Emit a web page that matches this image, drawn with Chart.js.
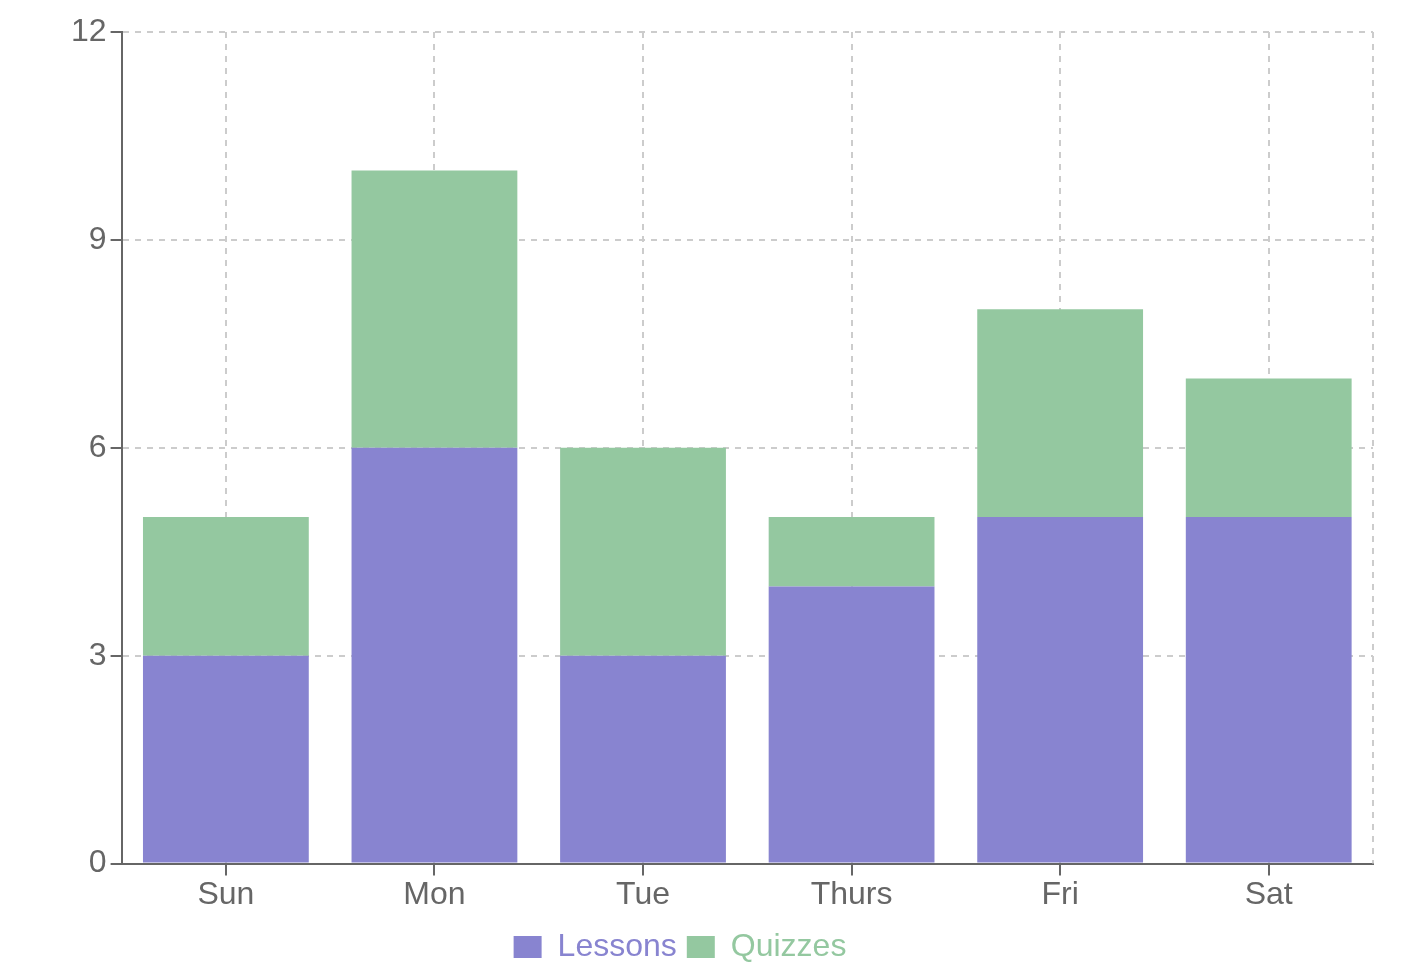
<!DOCTYPE html>
<html>
<head>
<meta charset="utf-8">
<script src="https://cdn.jsdelivr.net/npm/chart.js@4"></script>
<style>
  html, body { margin: 0; padding: 0; background: #fff; }
  #wrap { width: 1411px; height: 969px; position: relative; }
</style>
</head>
<body>
<div id="wrap"><canvas id="chart-area"></canvas></div>
<script>
// data
var days = ["Sun", "Mon", "Tue", "Thurs", "Fri", "Sat"];
var lessons = [3, 6, 3, 4, 5, 5];
var quizzes = [2, 4, 3, 1, 3, 2];
var yTicks = [0, 3, 6, 9, 12];

var purple = "#8884d0";
var green = "#94c8a0";

Chart.defaults.font.family = "'Liberation Sans', Arial, sans-serif";
Chart.defaults.font.size = 32;

// dashed line on the right edge of the plot
var rightEdge = {
  id: 'rightEdge',
  beforeDatasetsDraw: function (chart) {
    var a = chart.chartArea, ctx = chart.ctx;
    ctx.save();
    ctx.strokeStyle = "#cccccc";
    ctx.lineWidth = 2;
    ctx.setLineDash([6, 6]);
    ctx.beginPath();
    ctx.moveTo(a.right, a.top);
    ctx.lineTo(a.right, a.bottom);
    ctx.stroke();
    ctx.restore();
  },
  afterLayout: function (chart) {
    // legend sits a bit left of centre and lower in the original
    chart.legend.left -= 40;
    chart.legend.right -= 40;
    chart.legend.top += 7;
    chart.legend.bottom += 7;
  }
};

function init () {
  var config = {
    type: 'bar',
    data: {
      labels: days,
      datasets: [
        { label: "Lessons", data: lessons, backgroundColor: purple },
        { label: "Quizzes", data: quizzes, backgroundColor: green }
      ]
    },
    options: {
      responsive: true,
      maintainAspectRatio: false,
      animation: false,
      layout: { padding: { left: 67, right: 38, top: 32, bottom: 3 } },
      datasets: { bar: { categoryPercentage: 1, barPercentage: 0.795 } },
      scales: {
        x: {
          stacked: true,
          grid: { offset: false, color: "#cccccc", lineWidth: 2, tickColor: "#666666", tickLength: 12, tickWidth: 2 },
          border: { color: "#666666", width: 2, dash: [6, 6] },
          ticks: { color: "#666666", padding: 0 }
        },
        y: {
          stacked: true,
          min: 0,
          max: 12,
          afterBuildTicks: function (axis) {
            axis.ticks = yTicks.map(function (v) { return { value: v }; });
          },
          grid: { color: "#cccccc", lineWidth: 2, tickColor: "#666666", tickLength: 11, tickWidth: 2 },
          border: { color: "#666666", width: 2, dash: [6, 6] },
          ticks: { color: "#666666", padding: 4 }
        }
      },
      plugins: {
        tooltip: { enabled: false },
        legend: {
          position: 'bottom',
          labels: {
            boxWidth: 28,
            boxHeight: 22,
            padding: 10,
            generateLabels: function (chart) {
              return chart.data.datasets.map(function (ds, i) {
                return {
                  text: ds.label,
                  fillStyle: ds.backgroundColor,
                  strokeStyle: ds.backgroundColor,
                  lineWidth: 0,
                  fontColor: ds.backgroundColor,
                  hidden: false,
                  datasetIndex: i
                };
              });
            }
          }
        }
      }
    },
    plugins: [rightEdge]
  };
  var ctx = document.getElementById("chart-area").getContext("2d");
  window.myBar = new Chart(ctx, config);
}

init();
</script>
</body>
</html>
